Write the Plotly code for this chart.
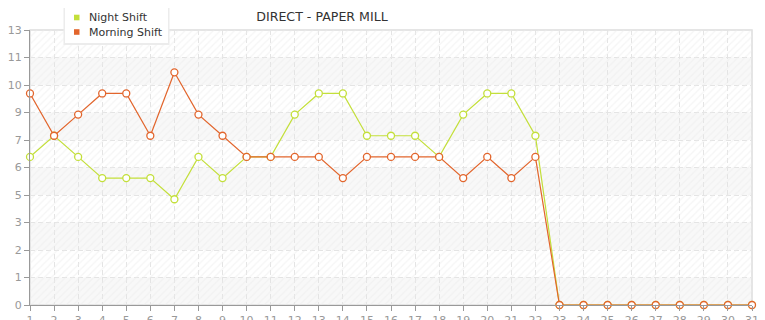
import math
import plotly.graph_objects as go

days = list(range(1, 32))
night_shift = [7, 8, 7, 6, 6, 6, 5, 7, 6, 7, 7, 9, 10, 10, 8, 8, 8, 7, 9, 10, 10, 8,
               0, 0, 0, 0, 0, 0, 0, 0, 0]
morning_shift = [10, 8, 9, 10, 10, 8, 11, 9, 8, 7, 7, 7, 7, 6, 7, 7, 7, 7, 6, 7, 6, 7,
                 0, 0, 0, 0, 0, 0, 0, 0, 0]
series_names = ["Night Shift", "Morning Shift"]
y_max = 13
y_step = 1.3
y_ticks = [round(k * y_step, 2) for k in range(11)]
y_tick_labels = [str(math.floor(v + 1e-9)) for v in y_ticks]

title_text = "DIRECT - PAPER MILL"
green = "#c3df3a"
orange = "#e2652c"
font_family = "DejaVu Sans, Verdana, sans-serif"

W, H = 765, 320
ML, MR, MT, MB = 30, 13, 30, 15
PW, PH = W - ML - MR, H - MT - MB


def px_x(p):
    return (p - ML) / PW


def px_y(p):
    return (H - MB - p) / PH


fig = go.Figure()

# hatched plot background
fig.add_trace(go.Bar(
    x=[(days[0] + days[-1]) / 2], y=[y_max], width=[days[-1] - days[0]],
    marker=dict(color="rgba(0,0,0,0)", line=dict(width=0),
                pattern=dict(shape="/", fgcolor="#ebebeb", size=5, solidity=0.25,
                             fillmode="overlay")),
    hoverinfo="skip", showlegend=False))

for nm, vals, col in [(series_names[0], night_shift, green),
                      (series_names[1], morning_shift, orange)]:
    fig.add_trace(go.Scatter(
        x=days, y=vals, mode="lines+markers", name=nm,
        line=dict(color=col, width=1.2),
        marker=dict(symbol="circle", size=7, color="white", line=dict(color=col, width=1.3)),
        cliponaxis=False, showlegend=False))

shapes = []
# alternating grey bands
for k in range(0, len(y_ticks) - 1, 2):
    shapes.append(dict(type="rect", xref="paper", yref="y", x0=0, x1=1,
                       y0=y_ticks[k], y1=y_ticks[k + 1], fillcolor="#f8f8f8",
                       line=dict(width=0), layer="below"))
shapes.append(dict(type="rect", xref="paper", yref="paper", x0=0, x1=1, y0=0, y1=1,
                   line=dict(color="#dddddd", width=1.5), layer="below"))

# custom legend box with soft shadow
lx0, lx1, ly0, ly1 = 65, 168, 8, 43
shapes.append(dict(type="rect", xref="paper", yref="paper",
                   x0=px_x(lx0 - 1.5), x1=px_x(lx1 + 1.5), y0=px_y(ly0), y1=px_y(ly1 + 2),
                   fillcolor="#ececec", line=dict(width=0), layer="above"))
shapes.append(dict(type="rect", xref="paper", yref="paper",
                   x0=px_x(lx0), x1=px_x(lx1), y0=px_y(ly0), y1=px_y(ly1),
                   fillcolor="white", line=dict(width=0), layer="above"))
annotations = []
for i, (nm, col) in enumerate(zip(series_names, [green, orange])):
    cy = 17.5 + 14.5 * i
    shapes.append(dict(type="rect", xref="paper", yref="paper",
                       x0=px_x(74), x1=px_x(79.5), y0=px_y(cy + 2.8), y1=px_y(cy - 2.8),
                       fillcolor=col, line=dict(width=0), layer="above"))
    annotations.append(dict(text=nm, xref="paper", yref="paper", x=px_x(86.5), y=px_y(cy),
                            xanchor="left", yanchor="middle", showarrow=False,
                            font=dict(family=font_family, size=11, color="#333333")))

fig.update_layout(
    width=W, height=H,
    margin=dict(l=ML, r=MR, t=MT, b=MB),
    paper_bgcolor="white", plot_bgcolor="white",
    font=dict(family=font_family, size=11, color="#999999"),
    title=dict(text=title_text, x=322 / W, xanchor="center", y=1 - 17 / H,
               yanchor="middle", font=dict(family=font_family, size=12.6, color="#333333")),
    showlegend=False,
    shapes=shapes,
    annotations=annotations,
    bargap=0,
)

fig.update_xaxes(
    range=[days[0], days[-1]], tickvals=days, ticktext=[str(d) for d in days],
    showgrid=True, gridcolor="#e4e4e4", griddash="5px,3px", gridwidth=1,
    showline=True, linecolor="#999999", linewidth=1,
    ticks="outside", ticklen=5, tickcolor="#999999", automargin=False,
    tickfont=dict(size=11, color="#999999"), zeroline=False, fixedrange=True,
)
fig.update_yaxes(
    range=[0, y_max], tickvals=y_ticks, ticktext=y_tick_labels,
    showgrid=True, gridcolor="#e4e4e4", griddash="5px,3px", gridwidth=1,
    showline=True, linecolor="#999999", linewidth=1,
    ticks="outside", ticklen=5, tickcolor="#999999", automargin=False,
    tickfont=dict(size=11, color="#999999"), zeroline=False, fixedrange=True,
)

fig.write_html("out.html")
